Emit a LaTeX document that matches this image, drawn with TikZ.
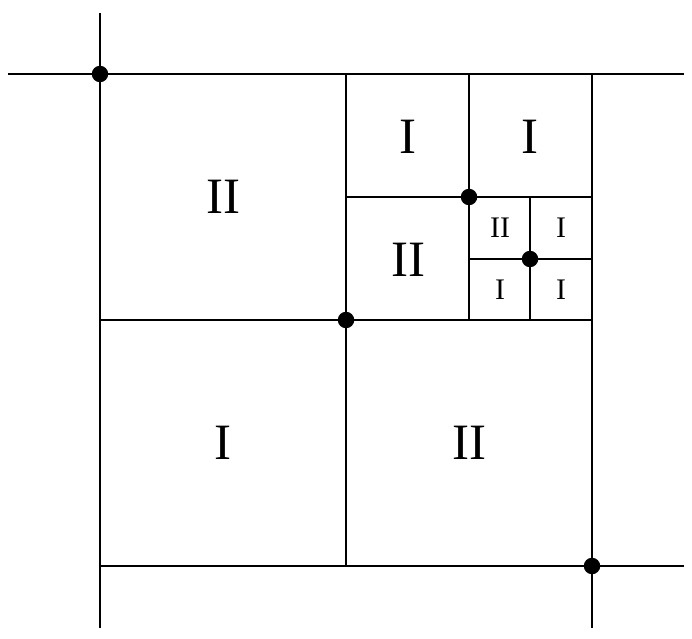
\documentclass[tikz,border=0pt]{standalone}
\usepackage{fontspec}
\setmainfont{Liberation Serif}

\begin{document}
\begin{tikzpicture}[x=0.02cm,y=-0.02cm,
    grid/.style={line width=1.1pt},
    dot/.style={circle,fill=black,inner sep=0pt,minimum size=0.33cm},
    big/.style={font=\fontsize{29}{29}\selectfont},
    small/.style={font=\fontsize{17}{17}\selectfont}]
  \useasboundingbox (0,0) rectangle (692,638);
  % outer lines
  \draw[grid] (100,13) -- (100,628);
  \draw[grid] (8,74) -- (684,74);
  \draw[grid] (592,74) -- (592,628);
  \draw[grid] (100,566) -- (684,566);
  % subdivisions
  \draw[grid] (346,74) -- (346,566);
  \draw[grid] (100,320) -- (592,320);
  \draw[grid] (469,74) -- (469,320);
  \draw[grid] (346,197) -- (592,197);
  \draw[grid] (530,197) -- (530,320);
  \draw[grid] (469,259) -- (592,259);
  % labels
  \node[big] (tl) at (223,197) {II};
  \node[big] (bl) at (223,443) {I};
  \node[big] (br) at (469,443) {II};
  \node[big] (q1) at (408,137) {I};
  \node[big] (q2) at (530,137) {I};
  \node[big] (q3) at (408,260) {II};
  \node[small] (s1) at (500,228) {II};
  \node[small] (s2) at (561,228) {I};
  \node[small] (s3) at (500,290) {I};
  \node[small] (s4) at (561,290) {I};
  % points
  \node[dot] (p1) at (100,74) {};
  \node[dot] (p2) at (346,320) {};
  \node[dot] (p3) at (469,197) {};
  \node[dot] (p4) at (530,259) {};
  \node[dot] (p5) at (592,566) {};
\end{tikzpicture}
\end{document}
